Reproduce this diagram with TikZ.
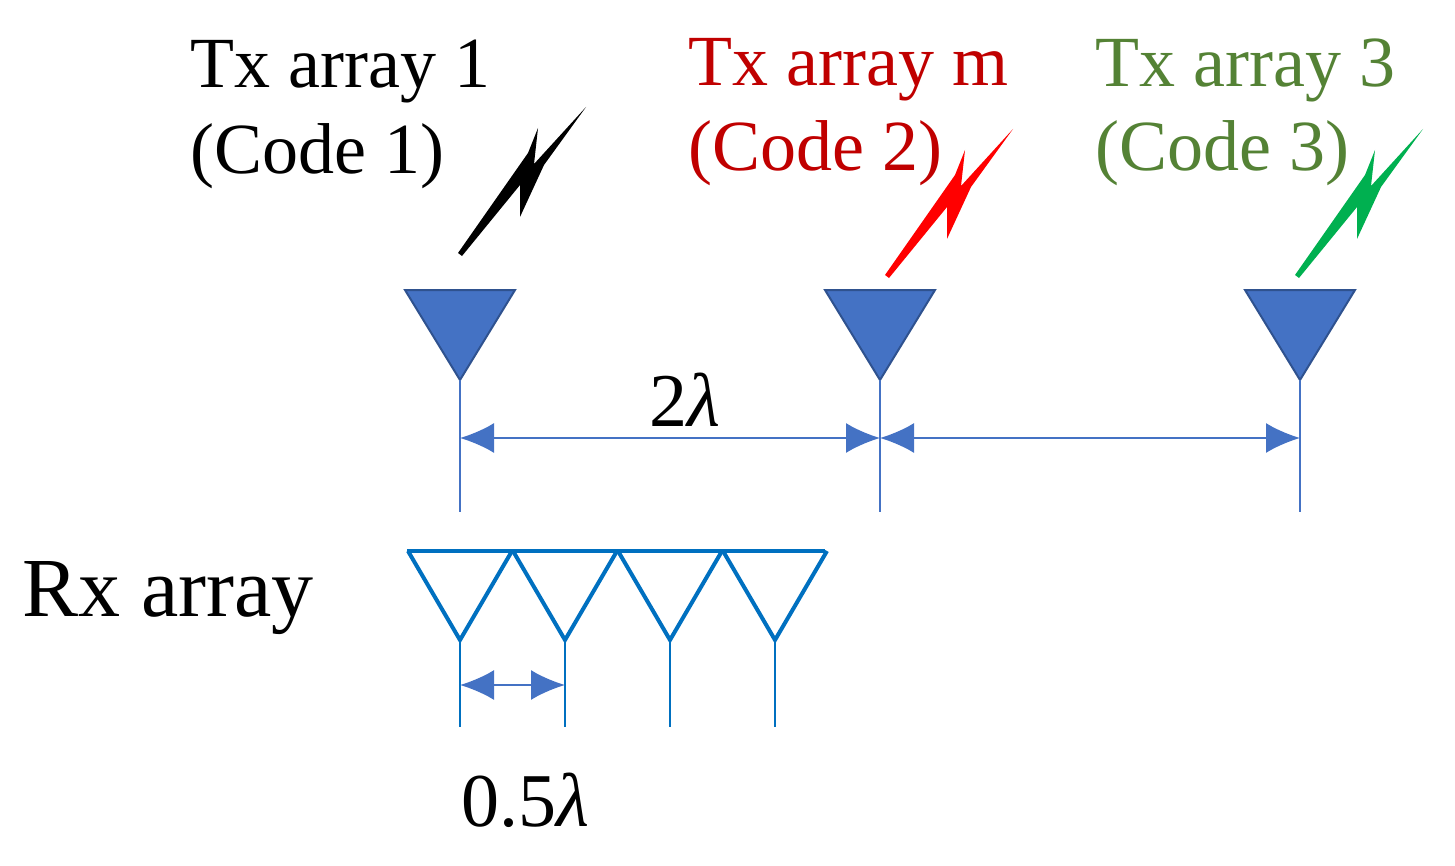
\documentclass[tikz,border=0pt]{standalone}
\usepackage{fontspec}
\setmainfont{Liberation Serif}
\usetikzlibrary{arrows.meta}
\definecolor{ablue}{RGB}{68,114,196}
\definecolor{dblue}{RGB}{47,82,143}
\definecolor{rblue}{RGB}{0,112,192}
\definecolor{tred}{RGB}{192,0,0}
\definecolor{tgreen}{RGB}{84,130,53}
\definecolor{bgreen}{RGB}{0,176,80}
\begin{document}
\begin{tikzpicture}[x=0.5pt,y=-0.5pt,
  lbl/.style={font=\fontsize{36}{40}\selectfont,align=left,anchor=west,inner sep=0},
  tx/.style={fill=ablue,draw=dblue,line width=1pt},
  stem/.style={draw=ablue,line width=1pt},
  dim/.style={draw=ablue,line width=1pt,{Latex[length=17pt,width=15pt]}-{Latex[length=17pt,width=15pt]}},
  rx/.style={draw=rblue,line width=2pt,line join=miter},
  bolt/.style={line join=round}]
\useasboundingbox (0,0) rectangle (1455,866);
\node[lbl] (t1) at (190,72) {Tx array 1};
\node[lbl] (c1) at (190,156) {(Code 1)};
\node[lbl,text=tred] (t2) at (688,70) {Tx array m};
\node[lbl,text=tred] (c2) at (688,153) {(Code 2)};
\node[lbl,text=tgreen] (t3) at (1095,70) {Tx array 3};
\node[lbl,text=tgreen] (c3) at (1095,153) {(Code 3)};
\node[lbl,font=\fontsize{42}{46}\selectfont] (rxl) at (22,598) {Rx array};
% bolts
\foreach \bx/\by/\c in {458/253/black,885/275/red,1295/275/bgreen}{
  \fill[\c,bolt] (\bx,\by) -- ++(70,-100) -- ++(10,-25) -- ++(-4,36) -- ++(52,-57) -- ++(-42,58) -- ++(-24,52) -- ++(0,-32) -- ++(-58,71) -- cycle;
}
% tx triangles
\foreach \n/\x in {a/460,b/880,c/1300}{
  \draw[tx] (\x-55,290) -- (\x+55,290) -- (\x,380) -- cycle;
  \coordinate (\n) at (\x,380);
  \coordinate (\n d) at (\x,512);
  \coordinate (\n m) at (\x,438);
  \draw[stem] (\n) -- (\n d);
}
\draw[dim] (am) -- (bm);
\draw[dim] (bm) -- (cm);
\node[font=\fontsize{38}{42}\selectfont] (l2) at (685,400) {2\textit{λ}};
% rx
\draw[rx] (407,551) -- (825,551);
\foreach \n/\x in {1/460,2/565,3/670,4/775}{
  \draw[rx] (\x-52,551) -- (\x,640) -- (\x+52,551);
  \coordinate (r\n) at (\x,640);
  \coordinate (r\n d) at (\x,727);
  \draw[stem,draw=rblue] (r\n) -- (r\n d);
}
\coordinate (p1) at (460,685);
\coordinate (p2) at (565,685);
\draw[dim] (p1) -- (p2);
\node[font=\fontsize{38}{42}\selectfont] (l05) at (525,800) {0.5\textit{λ}};
\end{tikzpicture}
\end{document}
